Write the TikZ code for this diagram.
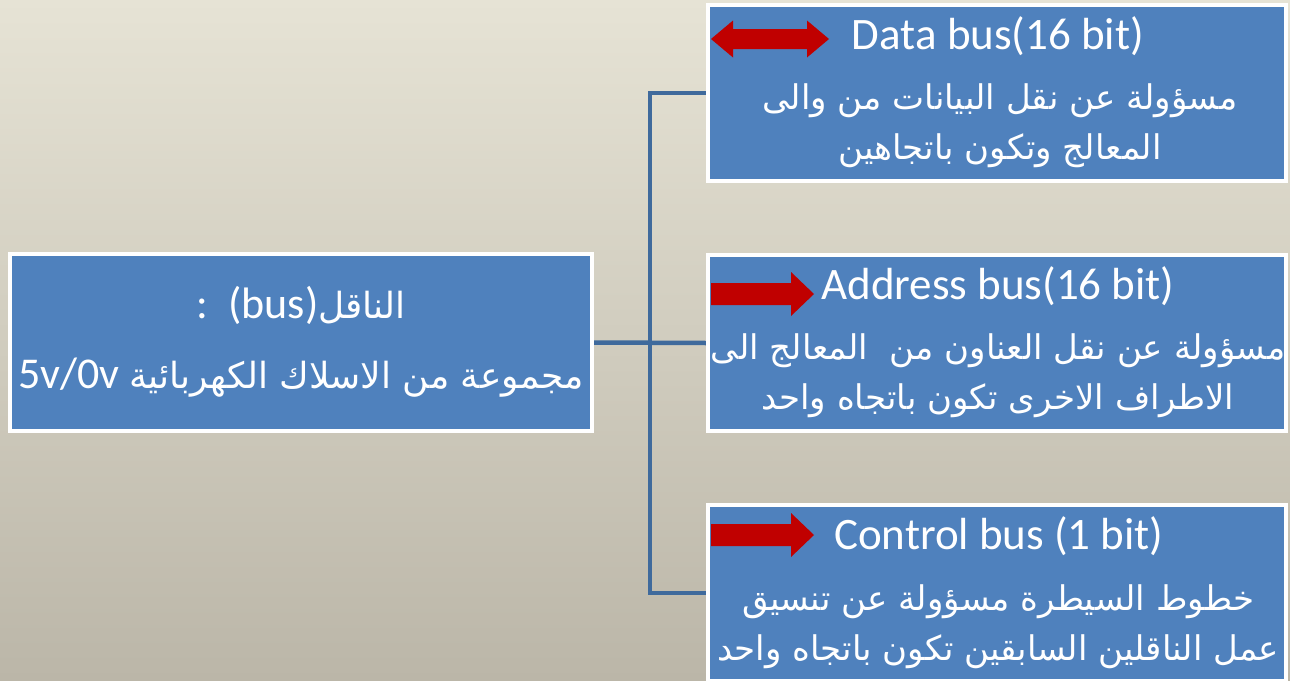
\documentclass[tikz,border=0pt]{standalone}
\usepackage{fontspec}
\setmainfont{Carlito}
\newfontfamily\ar[Script=Arabic]{DejaVu Sans}
\TeXXeTstate=1
\pgfdeclarelayer{backdrop}
\pgfdeclarelayer{links}
\pgfsetlayers{backdrop,links,main}
\definecolor{boxblue}{HTML}{4F81BD}
\definecolor{linkblue}{HTML}{3F6A9C}
\definecolor{arrowred}{HTML}{C00000}
\definecolor{bgtop}{HTML}{E6E3D5}
\definecolor{bgbot}{HTML}{BBB6A8}
\tikzset{
  busbox/.style={draw=white, line width=4pt, fill=boxblue, rectangle, inner sep=0pt, minimum width=578pt, minimum height=176pt},
  link/.style={draw=linkblue, line width=4.5pt},
  latin/.style={text=white, font=\fontsize{45}{50}\selectfont, inner sep=0pt},
  artext/.style={text=white, font=\ar\fontsize{34}{50}\selectfont, align=center, inner sep=0pt},
  redarrow/.style={fill=arrowred, draw=none}
}
\begin{document}
\begin{tikzpicture}[x=1pt,y=-1pt]
\begin{pgfonlayer}{backdrop}
\shade[top color=bgtop, bottom color=bgbot] (0,0) rectangle (1290,680);
\end{pgfonlayer}
\useasboundingbox (0,0) rectangle (1290,680);
% boxes
\node[busbox, minimum width=582pt, minimum height=177pt] (left) at (301,342.5) {};
\node[busbox] (top) at (997,93) {};
\node[busbox] (mid) at (997,343) {};
\node[busbox] (bot) at (997,593) {};
\coordinate (j) at (650,343);
% connectors beneath boxes
\begin{pgfonlayer}{links}
\draw[link] (top.west) -| (j) |- (bot.west);
\draw[link] (left.east) -- (mid.west);
\end{pgfonlayer}
% left text
\node[latin, font=\fontsize{44}{50}\selectfont] (l1) at (301,305) {:\ \ (bus)\hspace{-0.5pt}{\ar\fontsize{36}{50}\selectfont\beginR الناقل\endR}};
\node[latin, font=\fontsize{44}{50}\selectfont] (l2) at (301,378) {5v/0v {\ar\fontsize{36}{50}\selectfont\beginR مجموعة من الاسلاك الكهربائية\endR}};
% data box
\fill[redarrow] (711,39) -- (733,20.5) -- (733,29) -- (807,29) -- (807,20.5) -- (829,39) -- (807,57.5) -- (807,49) -- (733,49) -- (733,57.5) -- cycle;
\node[latin, anchor=base] (t1) at (998,49) {Data bus(16 bit)};
\node[artext] (t2) at (1000,126) {\beginR مسؤولة عن نقل البيانات من والى\endR\\\beginR المعالج وتكون باتجاهين\endR};
% address box
\fill[redarrow] (711,283) -- (791,283) -- (791,272) -- (814,294) -- (791,316) -- (791,305) -- (711,305) -- cycle;
\node[latin, anchor=base] (m1) at (998,299) {Address bus(16 bit)};
\node[artext] (m2) at (998,376) {\beginR مسؤولة عن نقل العناون من\ \ المعالج الى\endR\\\beginR الاطراف الاخرى تكون باتجاه واحد\endR};
% control box
\fill[redarrow] (711,524) -- (791,524) -- (791,513) -- (814,535) -- (791,557) -- (791,546) -- (711,546) -- cycle;
\node[latin, anchor=base] (b1) at (999,549) {Control bus (1 bit)};
\node[artext] (b2) at (998,627) {\beginR خطوط السيطرة مسؤولة عن تنسيق\endR\\\beginR عمل الناقلين السابقين تكون باتجاه واحد\endR};
\end{tikzpicture}
\end{document}
